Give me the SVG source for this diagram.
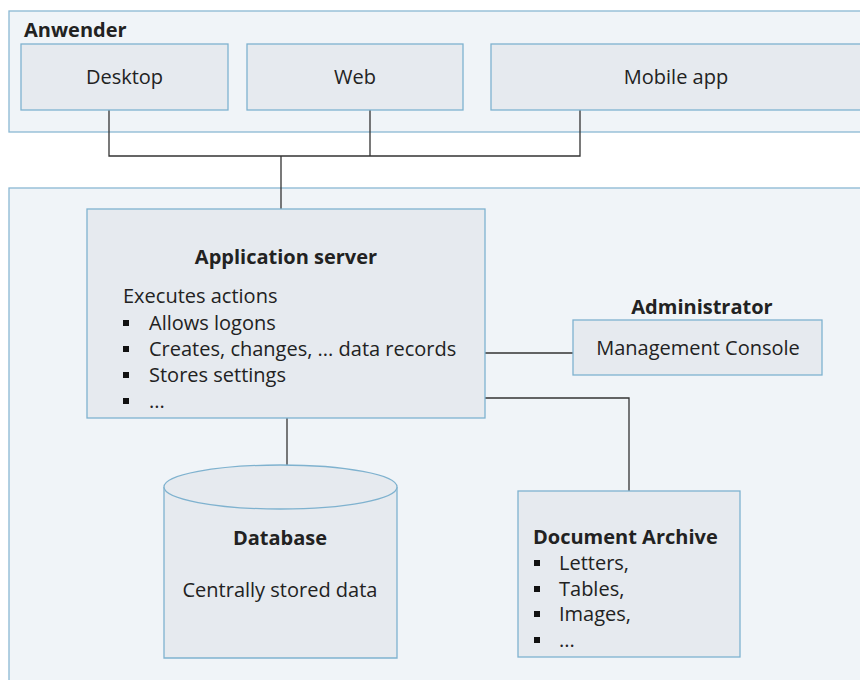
<svg xmlns="http://www.w3.org/2000/svg" width="860" height="680" viewBox="0 0 860 680">
<style>
.cont{fill:#f0f4f8;stroke:#8ab8d3;stroke-width:1.3}
.node{fill:#e6eaef;stroke:#7fb2cf;stroke-width:1.3}
.t{font-family:"Open Sans","Noto Sans",sans-serif;font-size:20px;fill:#222}
.b{font-weight:bold}
.c{text-anchor:middle}
.con{fill:none;stroke:#333;stroke-width:1.3}
.bul{fill:#111}
</style>
<rect width="860" height="680" fill="#ffffff"/>
<g id="anwender">
<rect class="cont" x="9" y="11" width="860" height="121"/>
<text class="t b" x="24" y="37">Anwender</text>
</g>
<g id="server-area">
<rect class="cont" x="9" y="188" width="860" height="500"/>
</g>
<g id="connectors">
<path class="con" d="M109 110V156H580V110M370 110V156M281 156V209"/>
<path class="con" d="M485 353H573"/>
<path class="con" d="M485 398H629V491"/>
<path class="con" d="M287 418V465"/>
</g>
<g id="desktop">
<rect class="node" x="21" y="44" width="207" height="66"/>
<text class="t c" x="124.5" y="84">Desktop</text>
</g>
<g id="web">
<rect class="node" x="247" y="44" width="216" height="66"/>
<text class="t c" x="355" y="84">Web</text>
</g>
<g id="mobile">
<rect class="node" x="491" y="44" width="380" height="66"/>
<text class="t c" x="676" y="84">Mobile app</text>
</g>
<g id="appserver">
<rect class="node" x="87" y="209" width="398" height="209"/>
<text class="t b c" x="286" y="264">Application server</text>
<text class="t" x="123" y="303">Executes actions</text>
<rect class="bul" x="123" y="320" width="6" height="6"/>
<text class="t" x="149" y="330">Allows logons</text>
<rect class="bul" x="123" y="346" width="6" height="6"/>
<text class="t" x="149" y="356">Creates, changes, ... data records</text>
<rect class="bul" x="123" y="372" width="6" height="6"/>
<text class="t" x="149" y="382">Stores settings</text>
<rect class="bul" x="123" y="398" width="6" height="6"/>
<text class="t" x="149" y="408">...</text>
</g>
<g id="admin">
<text class="t b c" x="702" y="314">Administrator</text>
<rect class="node" x="573" y="320" width="249" height="55"/>
<text class="t c" x="698" y="355">Management Console</text>
</g>
<g id="database">
<path class="node" d="M164 487V658H397V487"/>
<ellipse class="node" cx="280.5" cy="487" rx="116.5" ry="22"/>
<text class="t b c" x="280" y="545">Database</text>
<text class="t c" x="280" y="597">Centrally stored data</text>
</g>
<g id="archive">
<rect class="node" x="518" y="491" width="222" height="166"/>
<text class="t b" x="533" y="544">Document Archive</text>
<rect class="bul" x="534" y="560" width="6" height="6"/>
<text class="t" x="559" y="570">Letters,</text>
<rect class="bul" x="534" y="586" width="6" height="6"/>
<text class="t" x="559" y="596">Tables,</text>
<rect class="bul" x="534" y="611" width="6" height="6"/>
<text class="t" x="559" y="621">Images,</text>
<rect class="bul" x="534" y="637" width="6" height="6"/>
<text class="t" x="559" y="647">...</text>
</g>
</svg>
